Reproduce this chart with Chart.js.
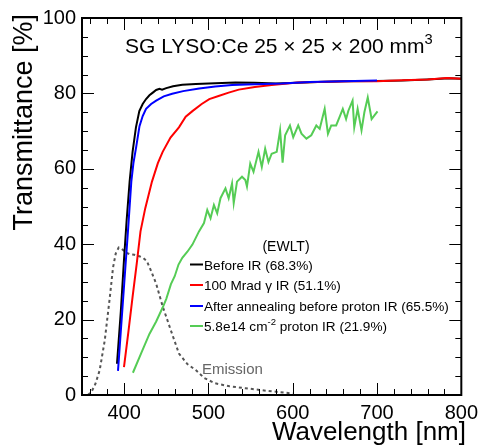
<!DOCTYPE html>
<html>
<head>
<meta charset="utf-8">
<script src="https://cdn.jsdelivr.net/npm/chart.js@4.4.1/dist/chart.umd.min.js"></script>
<style>
  html, body { margin: 0; padding: 0; background: #fff; }
</style>
</head>
<body>
<canvas id="chart" width="484" height="447"></canvas>
<script>
// tick labels
const xTicks = [400, 500, 600, 700, 800];
const yTicks = [0, 20, 40, 60, 80, 100];

const seriesLabels = [
  "Before IR (68.3%)",
  "100 Mrad \u03B3 IR (51.1%)",
  "After annealing before proton IR (65.5%)",
  "5.8e14 cm^{-2} proton IR (21.9%)"
];

// Before IR (black)
const beforeWl = [391.5, 396, 400, 403, 406.5, 410, 414, 418, 422, 426, 430, 434, 438, 442, 445, 450, 458, 469, 485, 508, 532, 555, 580, 605, 630, 660, 700, 730, 760, 785, 800];
const beforeT  = [8.3, 22, 36.5, 46.5, 56.6, 64.5, 71, 75.3, 77.2, 78.5, 79.5, 80.2, 80.9, 81.2, 81.0, 81.4, 81.9, 82.3, 82.5, 82.7, 82.9, 82.8, 82.6, 82.8, 83.0, 83.2, 83.3, 83.4, 83.7, 84.0, 83.9];

// 100 Mrad gamma IR (red)
const gammaWl = [399.8, 405, 410, 415, 419.4, 425, 433, 440, 445.7, 455, 465, 473, 481, 492, 501, 512, 524, 536, 555, 575, 606, 640, 670, 700, 730, 760, 783, 800];
const gammaT  = [7.4, 16.7, 26, 35, 43.4, 49.5, 56.6, 61.5, 64.5, 68.3, 71, 73.8, 75.3, 77.2, 78.5, 79.3, 80.2, 81.0, 81.7, 82.2, 82.9, 83.1, 83.2, 83.2, 83.5, 83.7, 84.1, 83.9];

// After annealing (blue)
const annealWl = [392.7, 396, 400, 404.5, 408.5, 411, 414.3, 418.2, 422, 426, 432, 438, 447, 457, 470, 489, 508, 528, 555, 587, 620, 660, 700];
const annealT  = [6.4, 16.8, 29.3, 43.4, 56.6, 61.5, 65.8, 71.3, 74, 75.9, 77.2, 78.1, 79.2, 79.9, 80.6, 81.3, 81.8, 82.2, 82.4, 82.6, 83.0, 83.2, 83.4];

// 5.8e14 proton IR (green)
const protonWl = [410.4, 420, 430, 438, 445.7, 450, 455.5, 460, 464.5, 469, 475, 481, 488.8, 494.7, 498.6, 502.5, 506.5, 510.4, 514.3, 520.2, 524, 528, 530, 533.9, 539.8, 543.8, 545.7, 549.6, 553.5, 559.4, 563.3, 567.3, 571.2, 575, 581, 585, 588, 591, 596.7, 600.6, 606.5, 610.4, 616.2, 622, 628, 632, 637.9, 641.8, 645.7, 651.5, 655.5, 659.4, 663.3, 666, 671, 673, 677, 681.6, 685, 689, 693.6, 696.7, 700.6];
const protonT  = [5.9, 11, 16.2, 19.5, 23.2, 25.5, 29.4, 31.5, 34.6, 36.4, 38, 39.9, 43.4, 45.6, 49.1, 46.9, 50.4, 48.2, 52.2, 54.8, 52.2, 56.1, 50.9, 56.6, 57.9, 57, 55.3, 61.4, 59.2, 64.5, 60.5, 65.3, 61.8, 64, 64.5, 70.2, 61.6, 68.9, 71.5, 68.4, 71.5, 69.3, 68, 68.9, 71.5, 70.6, 75.9, 69.3, 71.5, 71.5, 73.7, 75.9, 73.2, 75.4, 78.1, 71, 75.9, 70.2, 75, 78.9, 73.2, 74.1, 75.2];

// LYSO emission spectrum (arb. units)
const emissionWl = [357, 361.4, 366, 371, 377, 383, 386.8, 390, 393.5, 397, 402, 407, 412, 418, 423, 427, 432, 438, 445.7, 455.5, 465, 475, 485, 495, 508, 525, 544, 570, 600];
const emissionI  = [0, 0.9, 3, 6.6, 14.5, 25.9, 33.8, 37.5, 39.1, 38.8, 37.8, 37.3, 37.2, 36.8, 36.3, 35.5, 32.9, 29.5, 23.5, 17.1, 11, 8.2, 6.6, 4.5, 3.1, 2.3, 1.8, 1.1, 0.4];

const FONT = "'Liberation Sans', Arial, sans-serif";

function pts(xs, ys) {
  return xs.map((x, i) => ({ x: x, y: ys[i] }));
}

// draws text with ROOT style ^{..} superscripts
function drawRich(ctx, text, x, y, size) {
  const parts = text.split(/\^\{(.*?)\}/);
  ctx.textAlign = "left";
  ctx.textBaseline = "alphabetic";
  let cx = x;
  parts.forEach((p, i) => {
    const sup = i % 2 === 1;
    ctx.font = (sup ? size * 0.7 : size) + "px " + FONT;
    ctx.fillText(p, cx, sup ? y - size * 0.42 : y);
    cx += ctx.measureText(p).width;
  });
}

const rootStyle = {
  id: "rootStyle",
  afterDraw(chart) {
    const ctx = chart.ctx;
    const a = chart.chartArea;
    const xs = chart.scales.x, ys = chart.scales.y;
    ctx.save();
    ctx.strokeStyle = "#000";
    ctx.fillStyle = "#000";

    // inward ticks on all four sides
    ctx.lineWidth = 1;
    ctx.beginPath();
    for (let v = 360; v <= 800; v += 20) {
      const px = Math.round(xs.getPixelForValue(v)) + 0.5;
      const len = v % 100 === 0 ? 12 : 6;
      ctx.moveTo(px, a.bottom); ctx.lineTo(px, a.bottom - len);
      ctx.moveTo(px, a.top); ctx.lineTo(px, a.top + len);
    }
    for (let v = 0; v <= 100; v += 5) {
      const py = Math.round(ys.getPixelForValue(v)) + 0.5;
      const len = v % 20 === 0 ? 12 : 6;
      ctx.moveTo(a.left, py); ctx.lineTo(a.left + len, py);
      ctx.moveTo(a.right, py); ctx.lineTo(a.right - len, py);
    }
    ctx.stroke();

    ctx.lineWidth = 2;
    ctx.strokeRect(a.left, a.top, a.right - a.left, a.bottom - a.top);

    // axis titles
    ctx.font = "26px " + FONT;
    ctx.textAlign = "right";
    ctx.textBaseline = "alphabetic";
    ctx.fillText("Wavelength [nm]", 466, 440);

    ctx.save();
    ctx.translate(32, 14);
    ctx.rotate(-Math.PI / 2);
    ctx.font = "27px " + FONT;
    ctx.textAlign = "right";
    ctx.fillText("Transmittance [%]", 0, 0);
    ctx.restore();

    // header
    drawRich(ctx, "SG LYSO:Ce 25 \u00D7 25 \u00D7 200 mm^{3}", 125, 53, 21);

    // legend
    ctx.font = "14px " + FONT;
    ctx.textAlign = "center";
    ctx.fillText("(EWLT)", 286, 251);
    const rows = [269.5, 290, 311, 331];
    chart.data.datasets.forEach((ds, i) => {
      if (ds.inLegend === false) return;
      const y = rows[i];
      ctx.strokeStyle = ds.borderColor;
      ctx.lineWidth = 2;
      ctx.beginPath();
      ctx.moveTo(190, y - 5); ctx.lineTo(203, y - 5);
      ctx.stroke();
      ctx.fillStyle = "#000";
      drawRich(ctx, ds.label, 204, y, 13.6);
    });

    ctx.fillStyle = "#666";
    ctx.font = "15px " + FONT;
    ctx.textAlign = "left";
    ctx.fillText("Emission", 202, 374);
    ctx.restore();
  }
};

const ctx = document.getElementById("chart").getContext("2d");
const chart = new Chart(ctx, {
  type: "line",
  data: {
    datasets: [
      { label: seriesLabels[0], data: pts(beforeWl, beforeT), borderColor: "#000000", order: 4 },
      { label: seriesLabels[1], data: pts(gammaWl, gammaT), borderColor: "#ff0000", order: 3 },
      { label: seriesLabels[2], data: pts(annealWl, annealT), borderColor: "#0000ff", order: 2 },
      { label: seriesLabels[3], data: pts(protonWl, protonT), borderColor: "#55cc55", order: 1 },
      { label: "Emission", data: pts(emissionWl, emissionI), borderColor: "#555555",
        borderDash: [3, 3], inLegend: false, order: 5 }
    ]
  },
  options: {
    responsive: false,
    animation: false,
    layout: { padding: { top: 15, right: 19, left: 0, bottom: 0 } },
    elements: {
      point: { radius: 0 },
      line: { borderWidth: 2, tension: 0, fill: false }
    },
    plugins: {
      legend: { display: false },
      tooltip: { enabled: false }
    },
    scales: {
      x: {
        type: "linear",
        min: 350,
        max: 800,
        grid: { display: false, drawTicks: false },
        border: { display: false },
        ticks: { color: "#000", font: { family: FONT, size: 20 }, padding: 6, maxRotation: 0 },
        afterBuildTicks: s => { s.ticks = xTicks.map(v => ({ value: v })); },
        afterFit: s => { s.height = 52; }
      },
      y: {
        min: 0,
        max: 100,
        grid: { display: false, drawTicks: false },
        border: { display: false },
        ticks: { color: "#000", font: { family: FONT, size: 20 }, padding: 6 },
        afterBuildTicks: s => { s.ticks = yTicks.map(v => ({ value: v })); },
        afterFit: s => { s.width = 82; }
      }
    }
  },
  plugins: [rootStyle]
});
</script>
</body>
</html>
